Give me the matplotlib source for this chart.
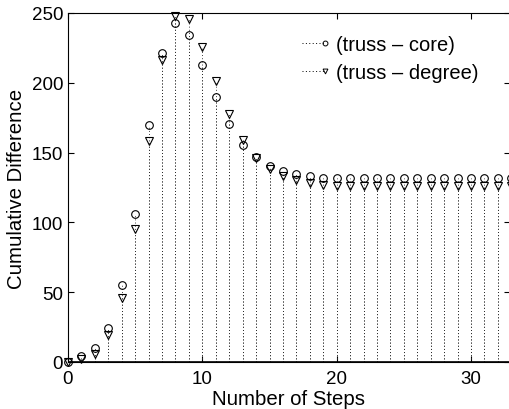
import numpy as np
import matplotlib
matplotlib.use('Agg')
import matplotlib.pyplot as plt
from matplotlib.lines import Line2D
from matplotlib.legend_handler import HandlerBase

plt.rcParams['font.family'] = ['Liberation Sans', 'DejaVu Sans']

# cumulative difference per step
steps = np.arange(0, 34)
truss_core = [0, 4, 10, 24, 55, 106, 170, 221, 243, 234, 213, 190, 170.5, 155.5, 147,
              140.5, 136.5, 134.5, 133, 132, 131.5, 131.5, 131.5, 131.5, 131.5, 131.5,
              131.5, 131.5, 131.5, 131.5, 131.5, 131.5, 131.5, 131.5]
truss_degree = [0, 2, 6, 19, 46, 95, 158.5, 216, 248, 246, 226, 201, 177.5, 159, 146,
                138, 133, 130.5, 128, 127, 126, 126, 126, 126, 126, 126,
                126, 126, 126, 126, 126, 126, 126, 126]
labels = ['(truss \u2013 core)', '(truss \u2013 degree)']

DOTS = (0, (1, 2.5))


class MarkerAtEnd(HandlerBase):
    # matlab style legend: dotted line with the marker at its right end
    def create_artists(self, legend, orig_handle, xdescent, ydescent, width, height, fontsize, trans):
        y = height / 2 - ydescent
        x1 = width - xdescent
        line = Line2D([-xdescent, x1], [y, y], color='k', ls=DOTS, lw=0.7)
        mk = Line2D([x1], [y], ls='none', marker=orig_handle.get_marker(), mfc='none',
                    mec='k', ms=orig_handle.get_markersize(), mew=0.7)
        line.set_transform(trans)
        mk.set_transform(trans)
        return [line, mk]


fig = plt.figure(figsize=(5.1, 4.1), dpi=100)
ax = fig.add_axes([68 / 510, 47 / 410, 442 / 510, 349 / 410])

# stems first, markers on top
ax.vlines(steps, 0, truss_core, colors='0.15', linestyles=DOTS, linewidth=0.65)
ax.vlines(steps, 0, truss_degree, colors='0.15', linestyles=DOTS, linewidth=0.65)
ax.plot(steps, truss_core, 'o', mfc='none', mec='k', ms=5.5, mew=0.8, clip_on=False)
ax.plot(steps, truss_degree, 'v', mfc='none', mec='k', ms=5.5, mew=0.8, clip_on=False)
ax.axhline(0, color='k', linewidth=1.2)

ax.set_xlim(0, 32.9)
ax.set_ylim(0, 250)
ax.set_xticks([0, 10, 20, 30])
ax.set_yticks([0, 50, 100, 150, 200, 250])
ax.tick_params(direction='in', length=4, width=0.8, top=True, right=True, labelsize=13.5)
ax.tick_params(axis='x', pad=6)
ax.tick_params(axis='y', pad=3.5)
for s in ax.spines.values():
    s.set_linewidth(0.8)

ax.set_xlabel('Number of Steps', fontsize=14.7, labelpad=1)
ax.set_ylabel('Cumulative Difference', fontsize=14.7, labelpad=4)

handles = [Line2D([], [], marker='o', ms=3.5),
           Line2D([], [], marker='v', ms=3.5)]
ax.legend(handles, labels, loc='upper left', bbox_to_anchor=(0.489, 0.99), frameon=False,
          fontsize=14.5, handlelength=1.15, handletextpad=0.55, labelspacing=0.45,
          handler_map={Line2D: MarkerAtEnd()})

plt.savefig('out.png', dpi=100)
